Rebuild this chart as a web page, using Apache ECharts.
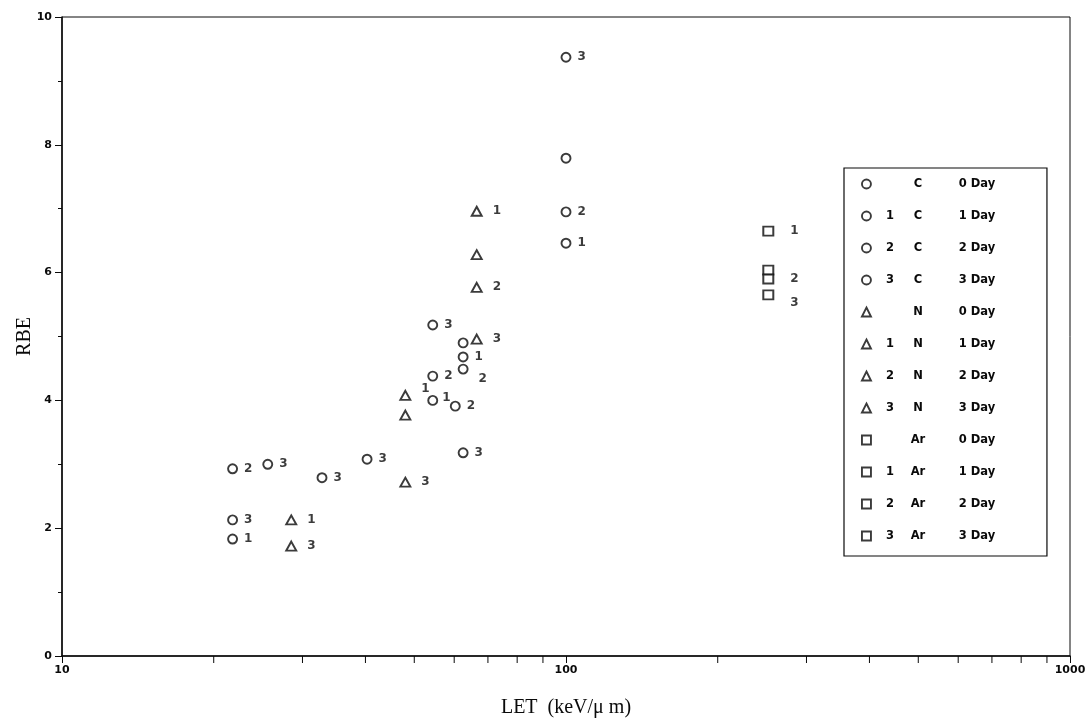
<!DOCTYPE html>
<html>
<head>
<meta charset="utf-8">
<script src="https://cdn.jsdelivr.net/npm/echarts@6/dist/echarts.min.js"></script>
<style>
  html, body { margin: 0; padding: 0; background: #fff; }
  #chart { width: 1087px; height: 720px; }
</style>
</head>
<body>
<div id="chart"></div>
<script>
// RBE against LET for C, N and Ar ions, measured 0-3 days after irradiation.
// Each point: [LET (keV/um), RBE]
const C_day0 = [[62.5, 4.90], [100, 7.79]];
const C_day1 = [[21.8, 1.83], [54.4, 4.00], [62.5, 4.68], [100, 6.46]];
const C_day2 = [[21.8, 2.93], [54.4, 4.38], [60.3, 3.91], [62.5, 4.49], [100, 6.95]];
const C_day3 = [[21.8, 2.13], [25.6, 3.00], [32.8, 2.79], [40.3, 3.08], [54.4, 5.18], [62.5, 3.18], [100, 9.37]];

const N_day0 = [[48.0, 3.77], [66.5, 6.28]];
const N_day1 = [[28.5, 2.13], [48.0, 4.08], [66.5, 6.96]];
const N_day2 = [[66.5, 5.77]];
const N_day3 = [[28.5, 1.72], [48.0, 2.72], [66.5, 4.96]];

const Ar_day0 = [[252, 6.04]];
const Ar_day1 = [[252, 6.65]];
const Ar_day2 = [[252, 5.90]];
const Ar_day3 = [[252, 5.65]];

const ions = ['C', 'N', 'Ar'];
const days = [0, 1, 2, 3];
const seriesData = {
  C: [C_day0, C_day1, C_day2, C_day3],
  N: [N_day0, N_day1, N_day2, N_day3],
  Ar: [Ar_day0, Ar_day1, Ar_day2, Ar_day3]
};

// Axis ticks
const yTicks = [0, 2, 4, 6, 8, 10];
const xMajorTicks = [10, 100, 1000];
const xMinorTicks = [20, 30, 40, 50, 60, 70, 80, 90, 200, 300, 400, 500, 600, 700, 800, 900];

// Marker shapes and label spacing per ion
const ionSymbol = { C: 'circle', N: 'triangle', Ar: 'rect' };
const ionSymbolSize = { C: 9, N: [10, 9], Ar: [10, 9] };
const ionLabelGap = { C: 6, N: 10, Ar: 16 };

// A few labels are nudged to keep them clear of nearby markers: "ion|day|index" -> [dx, dy]
const labelNudge = {
  'C|2|3': [4, 10],
  'C|1|1': [-2, -3],
  'N|1|1': [0, -6],
  'Ar|3|0': [0, 8]
};

const ink = '#0a0a0a';
const markerStyle = { color: '#ffffff', borderColor: ink, borderWidth: 1.9 };
const labelFont = { fontFamily: 'DejaVu Sans', fontSize: 12, fontWeight: 'bold', color: ink };

const series = [];
const legendData = [];
ions.forEach(function (ion) {
  days.forEach(function (day) {
    const name = ion + '|' + day;
    legendData.push({ name: name, icon: ionSymbol[ion] });
    series.push({
      name: name,
      type: 'scatter',
      symbol: ionSymbol[ion],
      symbolSize: ionSymbolSize[ion],
      itemStyle: markerStyle,
      emphasis: { disabled: true },
      data: seriesData[ion][day].map(function (p, i) {
        const item = { value: p };
        const nudge = labelNudge[ion + '|' + day + '|' + i];
        if (nudge) item.label = { offset: nudge };
        return item;
      }),
      label: Object.assign({
        show: day > 0,
        position: 'right',
        distance: ionLabelGap[ion],
        formatter: String(day)
      }, labelFont),
      z: 3
    });
  });
});

// Minor ticks of the logarithmic LET axis
series.push({
  name: 'xMinorTicks',
  type: 'custom',
  silent: true,
  clip: false,
  data: xMinorTicks,
  encode: { x: 0 },
  renderItem: function (params, api) {
    const p = api.coord([api.value(0), 0]);
    return {
      type: 'line',
      shape: { x1: p[0], y1: p[1], x2: p[0], y2: p[1] + 7 },
      style: { stroke: ink, lineWidth: 1 }
    };
  },
  z: 2
});

const legendCol = { fontFamily: 'DejaVu Sans', fontSize: 11.5, fontWeight: 'bold', lineHeight: 14, color: ink, align: 'center' };

const chart = echarts.init(document.getElementById('chart'), null, { renderer: 'canvas' });
chart.setOption({
  animation: false,
  backgroundColor: '#ffffff',
  grid: {
    left: 62, right: 17, top: 17, bottom: 64,
    outerBoundsMode: 'none',
    containLabel: false,
    show: true, borderColor: ink, borderWidth: 1, backgroundColor: 'transparent'
  },
  xAxis: {
    type: 'log',
    logBase: 10,
    min: xMajorTicks[0],
    max: xMajorTicks[xMajorTicks.length - 1],
    name: 'LET  (keV/\u03bc m)',
    nameLocation: 'middle',
    nameGap: 42,
    nameMoveOverlap: false,
    nameTextStyle: { fontFamily: 'Liberation Serif', fontSize: 20, color: ink },
    axisLine: { show: true, onZero: false, lineStyle: { color: ink, width: 1.5 } },
    axisTick: { show: true, length: 7, lineStyle: { color: ink } },
    axisLabel: {
      fontFamily: 'DejaVu Sans', fontSize: 11, fontWeight: 'bold', color: ink, margin: 9,
      formatter: function (v) { return String(Math.round(v)); }
    },
    splitLine: { show: false }
  },
  yAxis: {
    type: 'value',
    min: yTicks[0],
    max: yTicks[yTicks.length - 1],
    interval: 2,
    name: 'RBE',
    nameLocation: 'middle',
    nameGap: 27,
    nameMoveOverlap: false,
    nameRotate: 90,
    nameTextStyle: { fontFamily: 'Liberation Serif', fontSize: 20, color: ink },
    axisLine: { show: true, lineStyle: { color: ink, width: 1.5 } },
    axisTick: { show: true, length: 7, lineStyle: { color: ink } },
    minorTick: { show: true, splitNumber: 2, length: 4, lineStyle: { color: ink } },
    axisLabel: { fontFamily: 'DejaVu Sans', fontSize: 11, fontWeight: 'bold', color: ink, margin: 10 },
    splitLine: { show: false }
  },
  legend: {
    data: legendData,
    orient: 'vertical',
    left: 844,
    top: 168,
    padding: [9, 25, 13, 17],
    itemGap: 18,
    itemWidth: 9,
    itemHeight: 9,
    borderColor: ink,
    borderWidth: 1.2,
    backgroundColor: '#ffffff',
    selectedMode: false,
    itemStyle: markerStyle,
    formatter: function (name) {
      const parts = name.split('|');
      const day = parts[1];
      return '{a|' + (day === '0' ? '' : day) + '}{b|' + parts[0] + '}{c|' + day + ' Day}';
    },
    textStyle: {
      color: ink,
      fontSize: 12,
      lineHeight: 14,
      rich: {
        a: Object.assign({ width: 28 }, legendCol),
        b: Object.assign({ width: 28 }, legendCol),
        c: Object.assign({ width: 90 }, legendCol)
      }
    }
  },
  series: series
});
</script>
</body>
</html>
